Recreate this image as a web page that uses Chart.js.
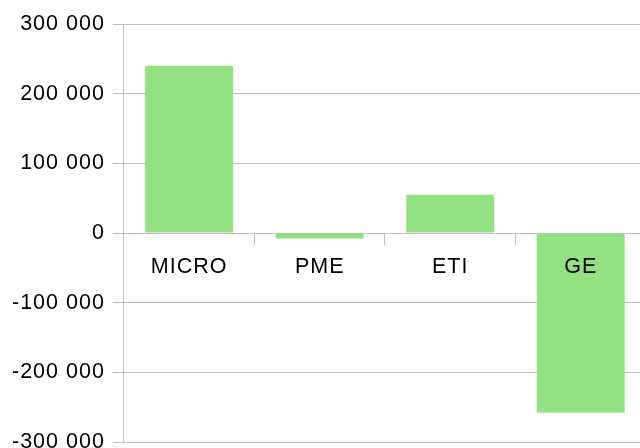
<!DOCTYPE html>
<html>
<head>
<meta charset="utf-8">
<script src="https://cdn.jsdelivr.net/npm/chart.js@4/dist/chart.umd.min.js"></script>
<style>
  html, body { margin: 0; padding: 0; background: #fff; overflow: hidden; }
  #wrap { width: 646px; height: 463px; }
</style>
</head>
<body>
<div id="wrap"><canvas id="c"></canvas></div>
<script>
const categories = ['MICRO', 'PME', 'ETI', 'GE'];
const values = [240000, -8000, 55000, -258000];
const yTicks = [-300000, -200000, -100000, 0, 100000, 200000, 300000];

function spaced(v) {
  const s = String(Math.abs(v)).replace(/\B(?=(\d{3})+(?!\d))/g, ' ');
  return (v < 0 ? '-' : '') + s;
}

const FONT = "'Liberation Sans', Arial, sans-serif";

// The labels are set slightly wide; apply the tracking whenever the
// canvas state may have been reset (resize) before measuring and drawing.
const tracking = {
  id: 'tracking',
  beforeLayout(chart) { chart.ctx.letterSpacing = '1px'; },
  beforeDraw(chart) { chart.ctx.letterSpacing = '1px'; }
};

new Chart(document.getElementById('c'), {
  type: 'bar',
  data: {
    labels: categories,
    datasets: [{
      data: values,
      backgroundColor: '#94e184',
      borderWidth: 0,
      categoryPercentage: 1,
      barPercentage: 0.674
    }]
  },
  plugins: [tracking],
  options: {
    responsive: true,
    maintainAspectRatio: false,
    animation: false,
    plugins: { legend: { display: false }, tooltip: { enabled: false } },
    layout: { padding: { top: 24, right: 0, left: 4, bottom: 0 } },
    scales: {
      x: {
        position: { y: 0 },
        grid: {
          drawOnChartArea: false,
          drawTicks: true,
          tickLength: 11,
          color: '#c0c0c0',
          offset: true
        },
        border: { display: true, color: '#c0c0c0', width: 1 },
        ticks: { z: 1, color: '#000', font: { family: FONT, size: 21.5 }, padding: 10 }
      },
      y: {
        min: -300000,
        max: 300000,
        afterBuildTicks(scale) { scale.ticks = yTicks.map(v => ({ value: v })); },
        grid: { color: '#c0c0c0', tickLength: 11, lineWidth: 1 },
        border: { display: true, color: '#c0c0c0', width: 1 },
        ticks: {
          color: '#000',
          font: { family: FONT, size: 21.5 },
          padding: 8,
          callback: v => spaced(v)
        }
      }
    }
  }
});
</script>
</body>
</html>
